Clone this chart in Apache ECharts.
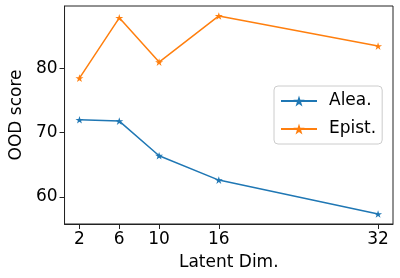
<!DOCTYPE html>
<html>
<head>
<meta charset="utf-8">
<script src="https://cdn.jsdelivr.net/npm/echarts@6/dist/echarts.min.js"></script>
<style>html,body{margin:0;padding:0;background:#fff}#c{width:400px;height:278px}</style>
</head>
<body>
<div id="c"></div>
<script>
const latentDims = [2, 6, 10, 16, 32];
const aleaScores = [72.0, 71.8, 66.4, 62.6, 57.3];
const epistScores = [78.5, 87.9, 81.0, 88.2, 83.5];
const yTicks = [60, 70, 80];
const xTicks = [2, 6, 10, 16, 32];
const seriesNames = ['Alea.', 'Epist.'];

const star = 'path://M0,-1000L224,-309L951,-309L363,118L588,809L0,382L-588,809L-363,118L-951,-309L-224,-309Z';
const font = 'DejaVu Sans';
const fs = 17;
const chart = echarts.init(document.getElementById('c'), null, {renderer: 'canvas'});
function mk(name, vals, color) {
  return {
    name: name, type: 'line',
    data: latentDims.map((x, i) => [x, vals[i]]),
    symbol: star, symbolSize: 8, symbolKeepAspect: true,
    lineStyle: {color: color, width: 1.5},
    itemStyle: {color: color},
    animation: false
  };
}
chart.setOption({
  animation: false,
  grid: {left: 58, right: 7, top: 6, bottom: 54, show: true, borderColor: '#222', borderWidth: 1, backgroundColor: 'transparent'},
  xAxis: {
    type: 'value', min: 0.5, max: 33.5,
    name: 'Latent Dim.', nameLocation: 'middle', nameGap: 30,
    nameTextStyle: {fontFamily: font, fontSize: fs, color: '#000'},
    axisLine: {show: true, lineStyle: {color: '#222', width: 1}},
    axisTick: {show: true, length: 5, lineStyle: {color: '#222'}, customValues: xTicks},
    axisLabel: {fontFamily: font, fontSize: fs, color: '#000', margin: 7, customValues: xTicks, showMinLabel: true, showMaxLabel: true},
    splitLine: {show: false}
  },
  yAxis: {
    type: 'value', min: 55.75, max: 89.75,
    name: 'OOD score', nameLocation: 'middle', nameGap: 38,
    nameTextStyle: {fontFamily: font, fontSize: fs, color: '#000'},
    axisLine: {show: true, lineStyle: {color: '#222', width: 1}},
    axisTick: {show: true, length: 5, lineStyle: {color: '#222'}, customValues: yTicks},
    axisLabel: {fontFamily: font, fontSize: fs, color: '#000', margin: 7, customValues: yTicks},
    splitLine: {show: false}
  },
  legend: {
    orient: 'vertical', left: 274, top: 86,
    data: seriesNames,
    itemWidth: 36, itemHeight: 14, itemGap: 8,
    padding: [5, 6, 5, 6],
    borderColor: '#ccc', borderWidth: 1, borderRadius: 4,
    backgroundColor: 'rgba(255,255,255,0.8)',
    textStyle: {fontFamily: font, fontSize: fs, color: '#000', lineHeight: 20, padding: [0, 0, 0, 7]}
  },
  series: [mk(seriesNames[0], aleaScores, '#1f77b4'), mk(seriesNames[1], epistScores, '#ff7f0e')]
});
</script>
</body>
</html>
